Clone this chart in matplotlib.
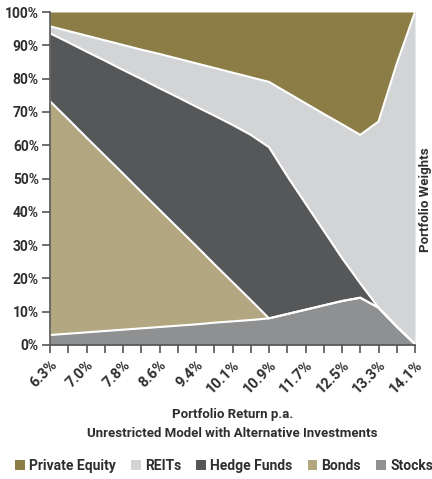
import matplotlib
matplotlib.use("Agg")
import matplotlib.pyplot as plt
from matplotlib.patches import Patch
import numpy as np

plt.rcParams['font.family'] = ['Roboto', 'DejaVu Sans']
plt.rcParams['font.weight'] = 'bold'

# Portfolio return labels (every second point on the efficient frontier)
return_labels = ["6.3%", "7.0%", "7.8%", "8.6%", "9.4%", "10.1%",
                 "10.9%", "11.7%", "12.5%", "13.3%", "14.1%"]

# Asset weights (%) along the frontier, 21 portfolios
stocks = [3.0, 3.4, 3.8, 4.2, 4.6, 5.0, 5.4, 5.8, 6.2, 6.7, 7.1,
          7.5, 8.0, 9.3, 10.6, 11.9, 13.2, 14.2, 11.2, 5.5, 0.3]
bonds = [70.2, 64.4, 58.5, 52.7, 46.9, 41.0, 35.2, 29.4, 23.6, 17.6, 11.8,
         6.0, 0.0, 0.0, 0.0, 0.0, 0.0, 0.0, 0.0, 0.0, 0.0]
hedge_funds = [20.4, 23.1, 25.8, 28.5, 31.1, 33.9, 36.5, 39.2, 41.8, 44.6, 47.2,
               49.6, 51.4, 41.4, 31.9, 22.4, 12.9, 4.3, 0.0, 0.0, 0.0]
reits = [2.1, 3.4, 4.8, 6.1, 7.5, 8.8, 10.3, 11.6, 13.0, 14.3, 15.7,
         17.3, 19.6, 25.1, 30.1, 35.1, 40.2, 44.6, 55.9, 79.0, 99.7]
private_equity = [4.3, 5.7, 7.1, 8.5, 9.9, 11.3, 12.6, 14.0, 15.4, 16.8, 18.2,
                  19.6, 21.0, 24.2, 27.4, 30.6, 33.7, 36.9, 32.9, 15.5, 0.0]

series = [("Stocks", stocks, "#8f9092"),
          ("Bonds", bonds, "#b3a781"),
          ("Hedge Funds", hedge_funds, "#555759"),
          ("REITs", reits, "#d3d4d6"),
          ("Private Equity", private_equity, "#8b7d45")]

text_color = "#2e2e2e"
axis_color = "#555555"

fig = plt.figure(figsize=(4.32, 4.79), dpi=100)
ax = fig.add_axes([50 / 432, 1 - 345 / 479, 365 / 432, 333 / 479])

x = np.arange(len(stocks))
base = np.zeros(len(x))
tops = []
for name, vals, col in series:
    top = base + np.array(vals)
    ax.fill_between(x, base, top, color=col, linewidth=0, zorder=1)
    tops.append(top)
    base = top

# white separators between the stacked layers
for top in tops[:-1]:
    ax.plot(x, top, color="white", linewidth=1.5, zorder=2,
            solid_joinstyle="miter")

ax.set_xlim(0, len(x) - 1)
ax.set_ylim(0, 100)

ax.set_yticks(np.arange(0, 101, 10))
ax.set_yticklabels([f"{v}%" for v in range(0, 101, 10)])

ax.set_xticks(x)
xt = []
for i in x:
    xt.append(return_labels[i // 2] if i % 2 == 0 else "")
ax.set_xticklabels(xt, rotation=45, ha="right", va="top",
                   rotation_mode="anchor")

for s in ["top", "right"]:
    ax.spines[s].set_visible(False)
for s in ["left", "bottom"]:
    ax.spines[s].set_color(axis_color)
    ax.spines[s].set_linewidth(1.2)
    ax.spines[s].set_zorder(3)

ax.tick_params(axis="both", colors=axis_color, width=1.2, length=6,
               labelcolor=text_color, labelsize=10)
ax.tick_params(axis="x", pad=3, labelsize=10.5)
ax.tick_params(axis="y", pad=2)

ax.set_xlabel("Portfolio Return p.a.\nUnrestricted Model with Alternative Investments",
              fontsize=9.5, fontweight="bold", color=text_color,
              linespacing=1.6, labelpad=9)

fig.text(419 / 432, 1 - 200 / 479, "Portfolio Weights", rotation=90,
         ha="left", va="center", fontsize=9.5, fontweight="bold",
         color=text_color)

legend_order = ["Private Equity", "REITs", "Hedge Funds", "Bonds", "Stocks"]
lookup = {n: c for n, _, c in series}
handles = [Patch(facecolor=lookup[n], edgecolor="none", label=n)
           for n in legend_order]
fig.legend(handles=handles, loc="center", ncol=5,
           bbox_to_anchor=(224 / 432, 1 - 466 / 479), frameon=False,
           fontsize=10, handlelength=0.7, handleheight=0.7,
           handletextpad=0.3, columnspacing=1.1, borderaxespad=0,
           labelcolor=text_color)

fig.savefig("out.png", dpi=100)
